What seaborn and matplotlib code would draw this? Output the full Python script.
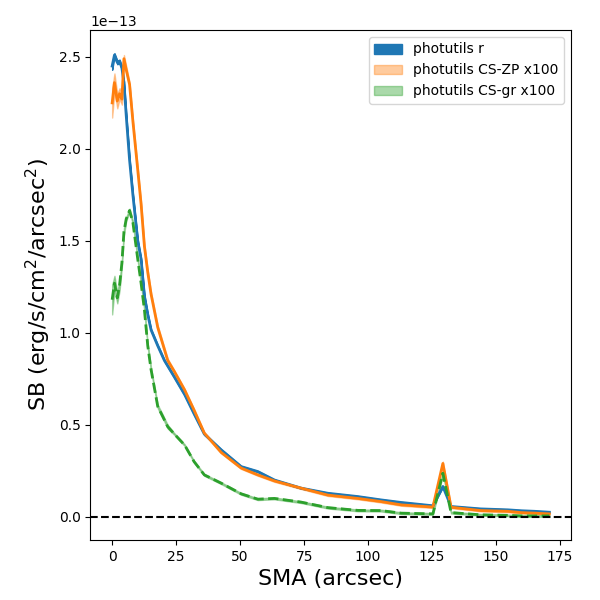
import numpy as np
import pandas as pd
import seaborn as sns
import matplotlib
matplotlib.use('Agg')
import matplotlib.pyplot as plt

# SMA grid (arcsec) and surface brightness profiles (units of 1e-13)
sma = [0, 0.9, 2.0, 2.9, 3.8, 4.6, 5.5, 6.8, 8.1, 10, 11.3, 12.6, 13.9, 15.2,
       17.8, 20.4, 21.7, 24.3, 28.3, 32, 36, 42.6, 50.4, 56.9, 63.4, 73.8,
       84.3, 96, 105, 112.9, 125.3, 129.2, 132.4, 144, 154.5, 159.8, 165, 170.8]

sb_r = [2.45, 2.51, 2.47, 2.475, 2.44, 2.36, 2.18, 1.94, 1.75, 1.50, 1.40, 1.20,
        1.10, 1.016, 0.93, 0.85, 0.82, 0.76, 0.665, 0.56, 0.45, 0.364, 0.273,
        0.246, 0.20, 0.156, 0.128, 0.11, 0.092, 0.078, 0.06, 0.165, 0.056,
        0.043, 0.038, 0.033, 0.03, 0.025]

sb_zp = [2.25, 2.36, 2.26, 2.30, 2.27, 2.49, 2.43, 2.35, 2.15, 1.885, 1.70, 1.47,
         1.33, 1.21, 1.03, 0.91, 0.85, 0.79, 0.69, 0.58, 0.455, 0.35, 0.265,
         0.228, 0.195, 0.156, 0.118, 0.10, 0.083, 0.065, 0.053, 0.29, 0.052,
         0.034, 0.03, 0.023, 0.02, 0.016]

sb_gr = [1.18, 1.27, 1.19, 1.26, 1.38, 1.55, 1.62, 1.665, 1.60, 1.40, 1.27, 1.125,
         0.93, 0.80, 0.60, 0.527, 0.49, 0.45, 0.39, 0.30, 0.228, 0.183, 0.125,
         0.096, 0.10, 0.08, 0.05, 0.035, 0.034, 0.02, 0.016, 0.237, 0.023,
         0.011, 0.008, 0.005, 0.005, 0.005]

# error band half-widths
err_r = [0.02, 0.01, 0.01, 0.01, 0.01, 0.01, 0.01, 0.005, 0.005, 0.005, 0.005, 0.005,
         0.005, 0.005, 0.005, 0.005, 0.005, 0.005, 0.005, 0.005, 0.005, 0.003, 0.003,
         0.003, 0.003, 0.003, 0.003, 0.003, 0.003, 0.003, 0.003, 0.003, 0.003,
         0.003, 0.003, 0.003, 0.003, 0.003]
err_zp = [0.08, 0.05, 0.04, 0.03, 0.03, 0.02, 0.02, 0.01, 0.01, 0.01, 0.01, 0.01,
          0.01, 0.01, 0.01, 0.01, 0.01, 0.005, 0.005, 0.005, 0.005, 0.005, 0.005,
          0.005, 0.005, 0.005, 0.005, 0.005, 0.005, 0.005, 0.005, 0.01, 0.005,
          0.005, 0.005, 0.005, 0.005, 0.005]
err_gr = [0.08, 0.04, 0.03, 0.03, 0.02, 0.02, 0.01, 0.01, 0.01, 0.01, 0.01, 0.01,
          0.01, 0.01, 0.01, 0.01, 0.01, 0.005, 0.005, 0.005, 0.005, 0.005, 0.005,
          0.005, 0.005, 0.005, 0.005, 0.005, 0.005, 0.005, 0.005, 0.01, 0.005,
          0.005, 0.005, 0.005, 0.005, 0.005]

SCALE = 1e-13

df = pd.DataFrame({
    'sma': sma,
    'r': np.array(sb_r) * SCALE,
    'zp': np.array(sb_zp) * SCALE,
    'gr': np.array(sb_gr) * SCALE,
})

fig, ax = plt.subplots(figsize=(6, 6), dpi=100)
fig.subplots_adjust(left=0.1505, right=0.952, bottom=0.1, top=0.95)

e_r = np.array(err_r) * SCALE
e_zp = np.array(err_zp) * SCALE
e_gr = np.array(err_gr) * SCALE

ax.fill_between(df['sma'], df['r'] - e_r, df['r'] + e_r, color='C0', alpha=1.0,
                label='photutils r')
ax.fill_between(df['sma'], df['zp'] - e_zp, df['zp'] + e_zp, color='C1', alpha=0.4,
                label='photutils CS-ZP x100')
ax.fill_between(df['sma'], df['gr'] - e_gr, df['gr'] + e_gr, color='C2', alpha=0.4,
                label='photutils CS-gr x100')

sns.lineplot(data=df, x='sma', y='r', color='C0', lw=2, ax=ax, legend=False)
sns.lineplot(data=df, x='sma', y='zp', color='C1', lw=2, ax=ax, legend=False)
sns.lineplot(data=df, x='sma', y='gr', color='C2', lw=2, ls='--', ax=ax, legend=False)

ax.axhline(0, color='k', ls='--', lw=1.5)

ax.set_xlabel('SMA (arcsec)', fontsize=16)
ax.set_ylabel('SB (erg/s/cm$^2$/arcsec$^2$)', fontsize=16)
ax.legend(loc='upper right')

fig.savefig('out.png', dpi=100)
